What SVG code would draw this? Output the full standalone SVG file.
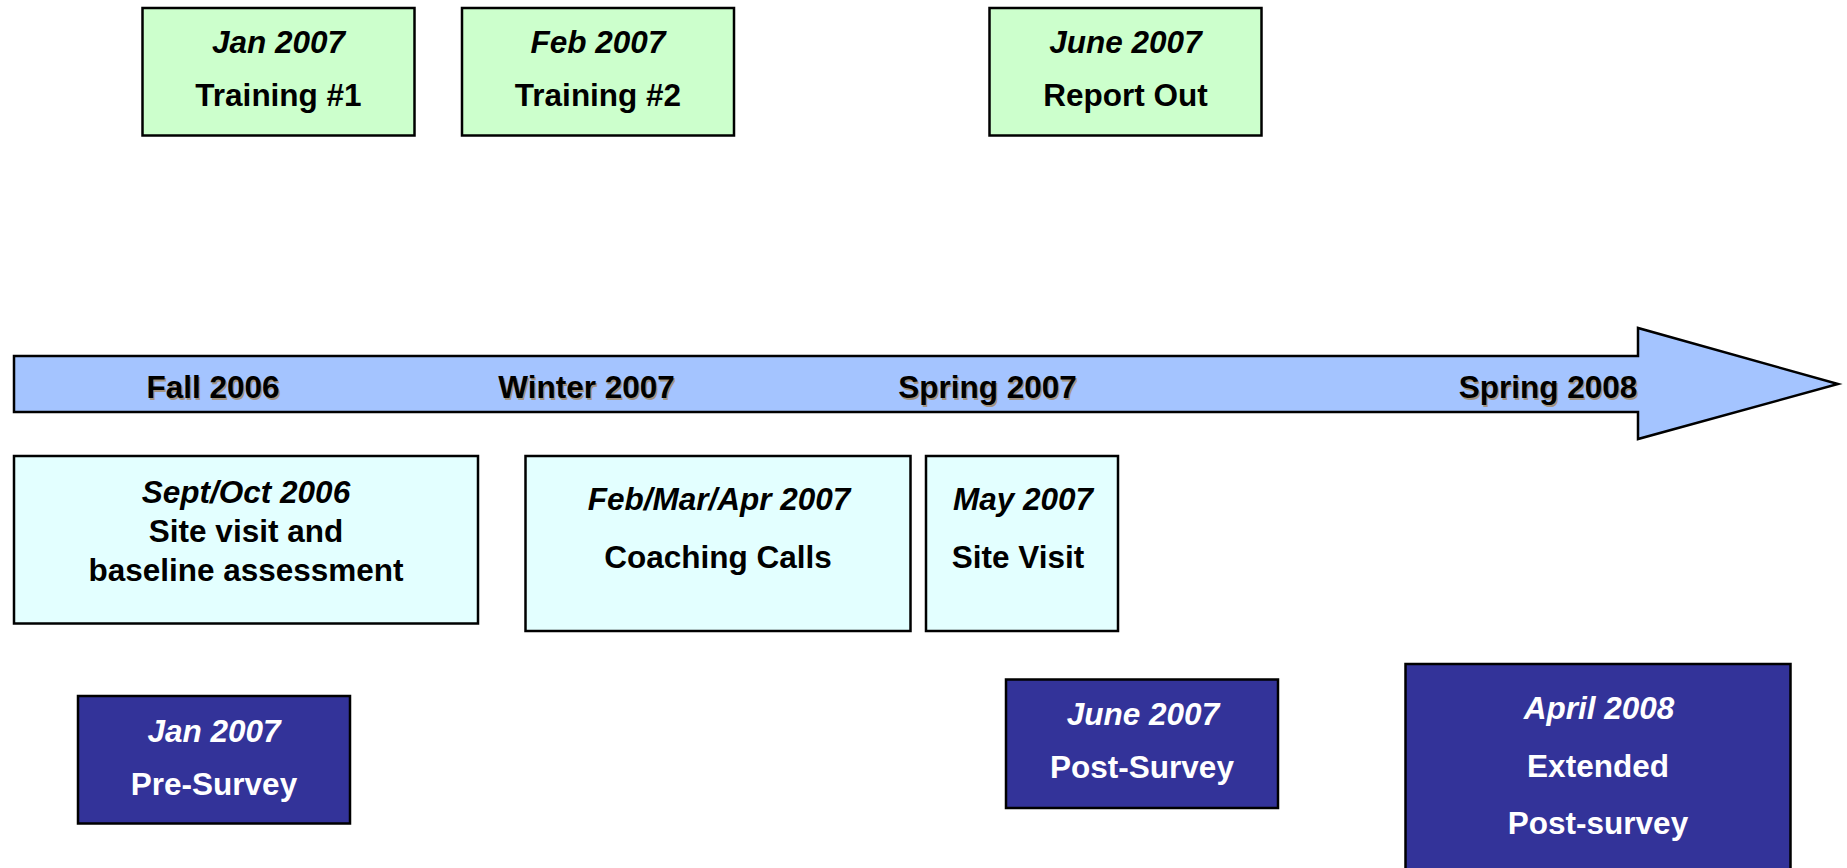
<svg xmlns="http://www.w3.org/2000/svg" width="1847" height="868" viewBox="0 0 1847 868">
<style>
text{font-family:"Liberation Sans",Arial,sans-serif;font-weight:bold;font-size:31.5px;text-anchor:middle}
.it{font-style:italic}
.box{stroke:#000;stroke-width:2.5}
.green{fill:#CCFFCC}
.cyan{fill:#E3FFFF}
.navy{fill:#333399}
.dk{fill:#000}
.wt{fill:#fff}
.sh{fill:#a39482}
</style>
<rect width="1847" height="868" fill="#fff"/>
<g id="timeline">
<polygon points="14,356 1638,356 1638,328 1838,384 1638,439 1638,412 14,412" fill="#A4C4FF" stroke="#000" stroke-width="2.5" stroke-linejoin="miter"/>
<text class="sh" x="214.5" y="399.5">Fall 2006</text><text class="dk" x="213" y="398">Fall 2006</text>
<text class="sh" x="588" y="399.5">Winter 2007</text><text class="dk" x="586.5" y="398">Winter 2007</text>
<text class="sh" x="989" y="399.5">Spring 2007</text><text class="dk" x="987.5" y="398">Spring 2007</text>
<text class="sh" x="1549.5" y="399.5">Spring 2008</text><text class="dk" x="1548" y="398">Spring 2008</text>
</g>
<g id="training1">
<rect class="box green" x="142.5" y="8" width="272" height="127.5"/>
<text class="dk it" x="278.5" y="53">Jan 2007</text>
<text class="dk" x="278.5" y="106">Training #1</text>
</g>
<g id="training2">
<rect class="box green" x="462" y="8" width="272" height="127.5"/>
<text class="dk it" x="598" y="53">Feb 2007</text>
<text class="dk" x="598" y="106">Training #2</text>
</g>
<g id="reportout">
<rect class="box green" x="989.5" y="8" width="272" height="127.5"/>
<text class="dk it" x="1125.5" y="53">June 2007</text>
<text class="dk" x="1125.5" y="106">Report Out</text>
</g>
<g id="sitevisit1">
<rect class="box cyan" x="14" y="456" width="464" height="167.5"/>
<text class="dk it" x="246" y="503">Sept/Oct 2006</text>
<text class="dk" x="246" y="542">Site visit and</text>
<text class="dk" x="246" y="580.5">baseline assessment</text>
</g>
<g id="coaching">
<rect class="box cyan" x="525.5" y="456" width="385" height="175"/>
<text class="dk it" x="719" y="510">Feb/Mar/Apr 2007</text>
<text class="dk" x="718" y="568">Coaching Calls</text>
</g>
<g id="sitevisit2">
<rect class="box cyan" x="926" y="456" width="192" height="175"/>
<text class="dk it" x="1023" y="510">May 2007</text>
<text class="dk" x="1018" y="568">Site Visit</text>
</g>
<g id="presurvey">
<rect class="box navy" x="78" y="696" width="272" height="127.5"/>
<text class="wt it" x="214" y="741.5">Jan 2007</text>
<text class="wt" x="214" y="795">Pre-Survey</text>
</g>
<g id="postsurvey">
<rect class="box navy" x="1006" y="679.5" width="272" height="128.5"/>
<text class="wt it" x="1143" y="725">June 2007</text>
<text class="wt" x="1142" y="778">Post-Survey</text>
</g>
<g id="extended">
<rect class="box navy" x="1405.5" y="664" width="385" height="210"/>
<text class="wt it" x="1599" y="719">April 2008</text>
<text class="wt" x="1598" y="776.5">Extended</text>
<text class="wt" x="1598" y="834">Post-survey</text>
</g>
<g id="connectors"></g>
</svg>
